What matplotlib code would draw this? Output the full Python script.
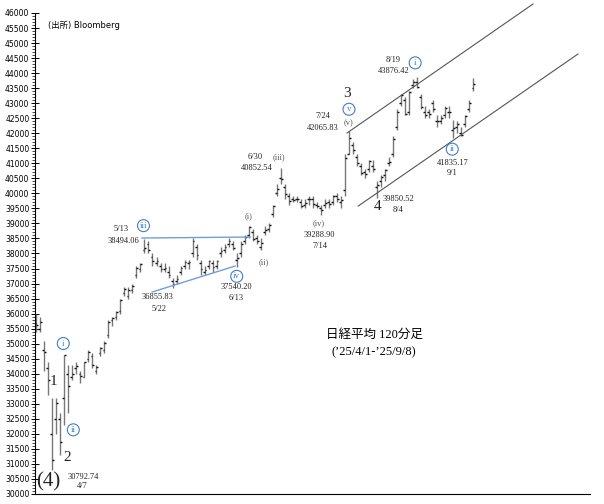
import matplotlib
matplotlib.use("Agg")
import matplotlib.pyplot as plt
import numpy as np

# Nikkei 225, daily bars (4/1 - 9/8, 2025)
dates = [
    "4/1", "4/2", "4/3", "4/4", "4/7", "4/8", "4/9", "4/10", "4/11", "4/14", "4/15",
    "4/16", "4/17", "4/18", "4/21", "4/22", "4/23", "4/24", "4/25", "4/28", "4/30",
    "5/1", "5/2", "5/7", "5/8", "5/9", "5/12", "5/13", "5/14", "5/15", "5/16",
    "5/19", "5/20", "5/21", "5/22", "5/23", "5/26", "5/27", "5/28", "5/29", "5/30",
    "6/2", "6/3", "6/4", "6/5", "6/6", "6/9", "6/10", "6/11", "6/12", "6/13",
    "6/16", "6/17", "6/18", "6/19", "6/20", "6/23", "6/24", "6/25", "6/26", "6/27", "6/30",
    "7/1", "7/2", "7/3", "7/4", "7/7", "7/8", "7/9", "7/10", "7/11", "7/14", "7/15",
    "7/16", "7/17", "7/18", "7/22", "7/23", "7/24", "7/25", "7/28", "7/29", "7/30", "7/31",
    "8/1", "8/4", "8/5", "8/6", "8/7", "8/8", "8/12", "8/13", "8/14", "8/15",
    "8/18", "8/19", "8/20", "8/21", "8/22", "8/25", "8/26", "8/27", "8/28", "8/29",
    "9/1", "9/2", "9/3", "9/4", "9/5", "9/8",
]
op = [
    35700, 35500, 34800, 34200, 32000, 32500, 32500, 33200, 34000, 33900, 34200,
    34000, 33900, 34500, 34600, 34100, 34700, 34800, 35300, 35800, 35900,
    36100, 36700, 36600, 36800, 37300, 37500, 38100, 38300, 37900, 37700,
    37600, 37500, 37400, 37100, 37100, 37400, 37600, 37700, 38000, 38200,
    37700, 37400, 37600, 37700, 37600, 38000, 38100, 38300, 38300, 37800,
    38000, 38400, 38600, 38700, 38500, 38200, 38700, 38800, 39300, 40000, 40500,
    40200, 39900, 39800, 39800, 39700, 39600, 39800, 39800, 39600, 39500, 39600,
    39700, 39700, 39900, 39700, 40100, 41300, 41600, 41200, 40900, 40700, 40800,
    40900, 40200, 40400, 40600, 41000, 41300, 42200, 43000, 43100, 42700,
    43600, 43700, 43200, 42700, 42700, 43000, 42400, 42400, 42600, 42700,
    42100, 42200, 42000, 42300, 42800, 43500,
]
hi = [
    36000, 35900, 35100, 34400, 33200, 33200, 32700, 34640, 34300, 34300, 34400,
    34100, 34400, 34800, 34700, 34300, 34900, 35100, 35800, 35900, 36100,
    36500, 36900, 36900, 37000, 37600, 37700, 38494, 38400, 38000, 37900,
    37700, 37700, 37600, 37200, 37300, 37600, 37800, 37800, 38500, 38300,
    37800, 37600, 37800, 37800, 37800, 38200, 38300, 38500, 38400, 38000,
    38400, 38600, 38900, 38800, 38600, 38500, 38900, 39000, 39600, 40300, 40853,
    40300, 40000, 39900, 39900, 39800, 39800, 39900, 39900, 39700, 39600, 39800,
    39800, 39950, 40000, 39900, 41300, 42066, 41700, 41300, 41000, 40800, 41100,
    41100, 40400, 40600, 40800, 41200, 41900, 42800, 43300, 43200, 43400,
    43800, 43876, 43300, 42900, 42800, 43100, 42600, 42600, 42900, 42900,
    42450, 42400, 42200, 42600, 43100, 43838,
]
lo = [
    35400, 35400, 34100, 33300, 30793, 32000, 31300, 32300, 32700, 33800, 34000,
    33700, 33900, 34400, 34200, 34000, 34600, 34700, 35200, 35600, 35800,
    36000, 36600, 36500, 36700, 37200, 37400, 38000, 38000, 37600, 37600,
    37400, 37400, 37200, 36856, 37000, 37300, 37500, 37500, 37900, 37800,
    37300, 37300, 37500, 37400, 37500, 37900, 38000, 38200, 38100, 37540,
    37900, 38300, 38500, 38400, 38300, 38100, 38600, 38700, 39200, 39900, 40300,
    39800, 39600, 39700, 39700, 39500, 39500, 39600, 39500, 39500, 39289, 39500,
    39500, 39600, 39700, 39500, 39900, 41300, 41300, 40900, 40600, 40500, 40700,
    40700, 39851, 40200, 40400, 40900, 41200, 42100, 42900, 42600, 42600,
    43500, 43500, 42800, 42500, 42500, 42700, 42200, 42300, 42500, 42500,
    41835, 42000, 41900, 42200, 42700, 43400,
]
cl = [
    35624, 35725, 34736, 33780, 31136, 33013, 31714, 34609, 33586, 33982, 34267,
    33920, 34377, 34730, 34280, 34220, 34868, 35039, 35705, 35839, 36045,
    36452, 36830, 36780, 36928, 37503, 37644, 38183, 38128, 37755, 37753,
    37498, 37529, 37299, 36985, 37160, 37531, 37724, 37722, 38432, 37965,
    37470, 37446, 37747, 37554, 37741, 38088, 38211, 38421, 38173, 37834,
    38311, 38536, 38885, 38488, 38403, 38354, 38790, 38942, 39584, 40150, 40487,
    39986, 39762, 39785, 39810, 39587, 39688, 39821, 39646, 39569, 39459, 39678,
    39663, 39901, 39819, 39774, 41171, 41826, 41456, 40998, 40674, 40654, 41069,
    40799, 40290, 40549, 40794, 41059, 41820, 42718, 43274, 42649, 43378,
    43714, 43546, 42888, 42610, 42633, 42807, 42394, 42520, 42828, 42718,
    42188, 42310, 41938, 42580, 43018, 43643,
]

# labelled turning points: (date, price)
extremes = [
    ("4/7", 30792.74), ("5/13", 38494.06), ("5/22", 36855.83), ("6/13", 37540.20),
    ("6/30", 40852.54), ("7/14", 39288.90), ("7/24", 42065.83), ("8/4", 39850.52),
    ("8/19", 43876.42), ("9/1", 41835.17),
]

# trend channel and triangle (x in trading-day index, y in price)
chan_upper_x = [77.5, 123.9]
chan_upper_y = [42008, 46300]
chan_lower_x = [80.3, 135.1]
chan_lower_y = [39579, 44636]
tri_upper_x = [26.4, 53.3]
tri_upper_y = [38515, 38548]
tri_lower_x = [28.9, 49.6]
tri_lower_y = [36718, 37583]

BLUE = "#3f7fc8"
BLUE_LINE = "#6f9fd8"
SERIF = ["Liberation Serif", "Noto Sans CJK JP"]

fig = plt.figure(figsize=(6.04, 5.04), dpi=100, facecolor="white")
ax = fig.add_axes([35 / 604, 10 / 504, 555 / 604, 481 / 504])

x = np.arange(len(dates))
ax.vlines(x, lo, hi, color="#777777", lw=1.0)
ax.hlines(op, x - 0.45, x, color="#111111", lw=1.0)
ax.hlines(cl, x, x + 0.45, color="#111111", lw=1.0)

ax.plot(chan_upper_x, chan_upper_y, color="#555555", lw=0.8, clip_on=False)
ax.plot(chan_lower_x, chan_lower_y, color="#555555", lw=0.8, clip_on=False)
ax.plot(tri_upper_x, tri_upper_y, color=BLUE_LINE, lw=1.0)
ax.plot(tri_lower_x, tri_lower_y, color=BLUE_LINE, lw=1.0)

ax.set_xlim(-0.3, 138.1)
ax.set_ylim(30000, 46000)
ax.set_yticks(np.arange(30000, 46001, 500))
ax.set_yticks(np.arange(30000, 46001, 100), minor=True)
ax.tick_params(axis="y", which="major", direction="inout", length=6, width=0.7,
               labelsize=5.5, pad=1)
ax.tick_params(axis="y", which="minor", direction="out", length=2.5, width=0.5)
ax.set_xticks([])
for side in ["top", "right"]:
    ax.spines[side].set_visible(False)
for side in ["left", "bottom"]:
    ax.spines[side].set_linewidth(0.8)


def note(date, price, text, dx, dy, size=6, color="#222222", circle=False):
    i = dates.index(date)
    kw = {}
    if circle:
        kw["bbox"] = dict(boxstyle="circle,pad=0.22", fc="white", ec=BLUE, lw=0.8)
        color = BLUE
        size = 6.5
    ax.annotate(text, xy=(i, price), xytext=(dx, dy), textcoords="offset pixels",
                ha="center", va="center", fontsize=size, color=color,
                family=SERIF, annotation_clip=False, **kw)


ext = dict(extremes)
# 4/7 low and waves 1, 2
note("4/7", ext["4/7"], "30792.74", 31, -7)
note("4/7", ext["4/7"], "4/7", 30, -16)
note("4/7", ext["4/7"], "(4)", -4, -12, size=15)
note("4/4", lo[dates.index("4/4")], "1", 5, 13, size=11)
note("4/9", lo[dates.index("4/9")], "2", 7, -3, size=11)
note("4/10", hi[dates.index("4/10")], "i", -1, 11, circle=True)
note("4/11", lo[dates.index("4/11")], "ii", 5, -17, circle=True)
# 5/13 high
note("5/13", ext["5/13"], "5/13", -23, 10)
note("5/13", ext["5/13"], "38494.06", -21, -2)
note("5/13", ext["5/13"], "iii", -1, 13, circle=True)
# 5/22 low
note("5/22", ext["5/22"], "36855.83", -15, -9)
note("5/22", ext["5/22"], "5/22", -14, -21)
# 6/13 low
note("6/13", ext["6/13"], "iv", 0, -9, circle=True)
note("6/13", ext["6/13"], "37540.20", 0, -20)
note("6/13", ext["6/13"], "6/13", -1, -31)
note("6/18", hi[dates.index("6/18")], "(i)", 0, 10, color="#555555")
note("6/23", lo[dates.index("6/23")], "(ii)", 3, -12, color="#555555")
# 6/30 high
note("6/30", ext["6/30"], "6/30", -26, 11)
note("6/30", ext["6/30"], "40852.54", -24, 0)
note("6/30", ext["6/30"], "(iii)", -2, 11, color="#555555")
# 7/14 low
note("7/14", ext["7/14"], "(iv)", -2, -8, color="#555555")
note("7/14", ext["7/14"], "39288.90", -2, -20)
note("7/14", ext["7/14"], "7/14", -1, -31)
# 7/24 high
note("7/24", ext["7/24"], "7/24", -26, 15)
note("7/24", ext["7/24"], "42065.83", -26, 3)
note("7/24", ext["7/24"], "3", -2, 38, size=11)
note("7/24", ext["7/24"], "v", 0, 22, circle=True)
note("7/24", ext["7/24"], "(v)", 0, 8, color="#555555")
# 8/4 low
note("8/4", ext["8/4"], "4", 0, -9, size=11)
note("8/4", ext["8/4"], "39850.52", 21, -1)
note("8/4", ext["8/4"], "8/4", 21, -12)
# 8/19 high
note("8/19", ext["8/19"], "8/19", -24, 17)
note("8/19", ext["8/19"], "43876.42", -24, 6)
note("8/19", ext["8/19"], "i", -2, 14, circle=True)
# 9/1 low
note("9/1", ext["9/1"], "ii", -1, -11, circle=True)
note("9/1", ext["9/1"], "41835.17", -1, -25)
note("9/1", ext["9/1"], "9/1", -1, -35)

fig.text(48 / 604, 1 - 25 / 504, "(出所) Bloomberg", fontsize=6,
         family=["DejaVu Sans", "Noto Sans CJK JP"], va="center", ha="left")
fig.text(374 / 604, 1 - 335 / 504, "日経平均 120分足", fontsize=9,
         family=SERIF, ha="center", va="center")
fig.text(374 / 604, 1 - 352 / 504, "(\u201925/4/1-\u201925/9/8)", fontsize=9,
         family=SERIF, ha="center", va="center")

fig.savefig("out.png", dpi=100, facecolor="white")
plt.close(fig)
